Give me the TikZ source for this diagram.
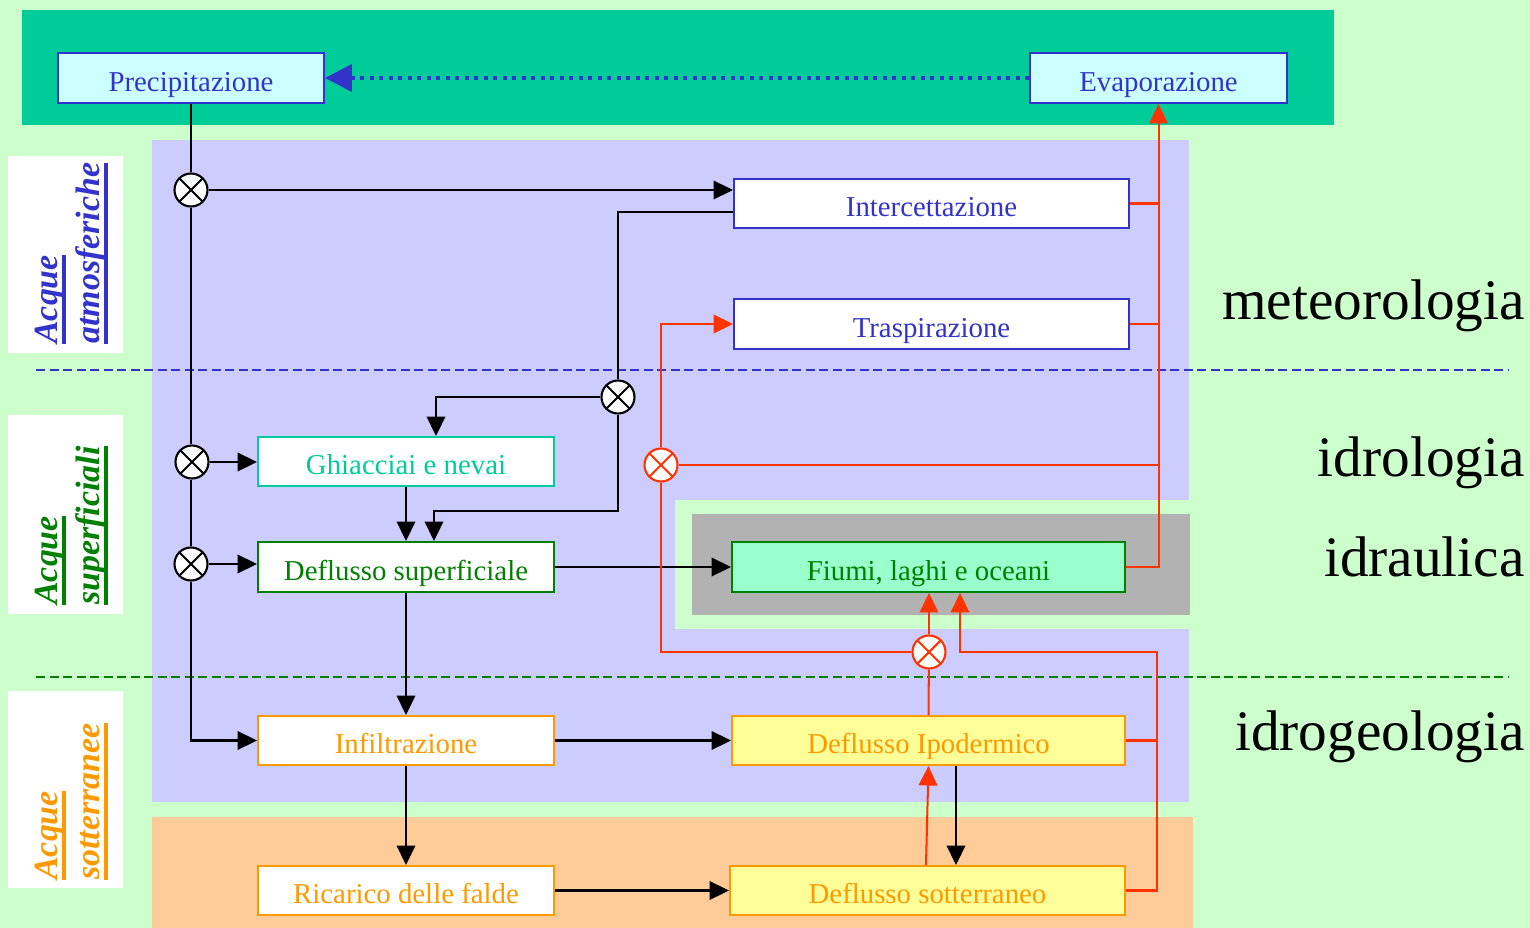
\documentclass[tikz,border=0pt]{standalone}
\usepackage{fontspec}
\setmainfont{Liberation Serif}
\usetikzlibrary{arrows.meta,calc}
\definecolor{bgg}{HTML}{CCFFCC}
\definecolor{tealband}{HTML}{00CC99}
\definecolor{lav}{HTML}{CCCCFF}
\definecolor{peach}{HTML}{FFCC99}
\definecolor{grayz}{HTML}{B2B2B2}
\definecolor{cyanl}{HTML}{CCFFFF}
\definecolor{mint}{HTML}{99FFCC}
\definecolor{yel}{HTML}{FFFF99}
\definecolor{blue3}{HTML}{3333CC}
\definecolor{green3}{HTML}{008000}
\definecolor{orange3}{HTML}{FF9900}
\definecolor{red3}{HTML}{FF3300}
\definecolor{teal3}{HTML}{00CC99}
\newsavebox\ulbox
\newcommand\ulbar[1]{\sbox\ulbox{#1}\rlap{\rule[-0.26em]{\wd\ulbox}{0.1em}}\usebox\ulbox}
\begin{document}
\begin{tikzpicture}[x=0.2mm,y=-0.2mm,
  box/.style={draw, line width=1.1pt, inner sep=0pt, text height=18.6pt, text depth=3.3pt, font=\fontsize{16.4}{19}\selectfont},
  bx/.style 2 args={minimum width=#1*0.2mm, minimum height=#2*0.2mm},
  junc/.style={circle, draw=#1, fill=white, line width=1.2pt, minimum size=6.6mm, inner sep=0pt,
    path picture={\draw[#1,line width=1.2pt] (path picture bounding box.north west) -- (path picture bounding box.south east)
      (path picture bounding box.north east) -- (path picture bounding box.south west);}},
  junc/.default=black,
  cb/.style={line width=1.15pt, black},
  cr/.style={line width=1.15pt, red3},
  ar/.style={-{Triangle[length=3.9mm,width=3.7mm]}},
  lab/.style={rotate=90, anchor=base west, inner sep=0pt, font=\fontsize{19.3}{23}\selectfont\bfseries\itshape},
  big/.style={anchor=base east, inner sep=0pt, font=\fontsize{32.6}{38}\selectfont},
  sep/.style={line width=1.1pt, dash pattern=on 1.8mm off 0.9mm}
]
\useasboundingbox (0,0) rectangle (1530,928);
% backgrounds
\fill[bgg] (0,0) rectangle (1530,928);
\fill[tealband] (22,10) rectangle (1334,125);
\fill[lav] (152,140) rectangle (1189,802);
\fill[bgg] (675,500) rectangle (1190,629);
\fill[grayz] (692,514) rectangle (1190,615);
\fill[peach] (152,817) rectangle (1193,928);
\fill[white] (8,156) rectangle (123,353);
\fill[white] (8,415) rectangle (123,614);
\fill[white] (8,691) rectangle (123,888);
% separators
\draw[sep, blue3] (36,370) -- (1508,370);
\draw[sep, green3] (36,677) -- (1508,677);
% left labels
\node[lab, text=blue3] (la1) at (57,344) {\ulbar{Acque}};
\node[lab, text=blue3] (la2) at (99,344) {\ulbar{atmosferiche}};
\node[lab, text=green3] (lb1) at (57,605) {\ulbar{Acque}};
\node[lab, text=green3] (lb2) at (99,605) {\ulbar{superficiali}};
\node[lab, text=orange3] (lc1) at (57,880) {\ulbar{Acque}};
\node[lab, text=orange3] (lc2) at (99,880) {\ulbar{sotterranee}};
% right labels
\node[big] (r1) at (1525,319) {meteorologia};
\node[big] (r2) at (1525,476) {idrologia};
\node[big] (r3) at (1525,576) {idraulica};
\node[big] (r4) at (1525,750) {idrogeologia};
% boxes
\node[box, bx={266}{50}, draw=blue3, fill=cyanl, text=blue3] (Prec) at (191,78) {Precipitazione};
\node[box, bx={257}{50}, draw=blue3, fill=cyanl, text=blue3] (Evap) at (1158.5,78) {Evaporazione};
\node[box, bx={395}{49}, draw=blue3, fill=white, text=blue3] (Int) at (931.5,203.5) {Intercettazione};
\node[box, bx={395}{50}, draw=blue3, fill=white, text=blue3] (Tra) at (931.5,324) {Traspirazione};
\node[box, bx={296}{49}, draw=teal3, fill=white, text=teal3] (Ghi) at (406,461.5) {Ghiacciai e nevai};
\node[box, bx={296}{50}, draw=green3, fill=white, text=green3] (Def) at (406,567) {Deflusso superficiale};
\node[box, bx={393}{50}, draw=green3, fill=mint, text=green3] (Fiu) at (928.5,567) {Fiumi, laghi e oceani};
\node[box, bx={296}{49}, draw=orange3, fill=white, text=orange3] (Inf) at (406,740.5) {Infiltrazione};
\node[box, bx={393}{49}, draw=orange3, fill=yel, text=orange3] (Ipo) at (928.5,740.5) {Deflusso Ipodermico};
\node[box, bx={296}{49}, draw=orange3, fill=white, text=orange3] (Ric) at (406,890.5) {Ricarico delle falde};
\node[box, bx={395}{49}, draw=orange3, fill=yel, text=orange3] (Sot) at (927.5,890.5) {Deflusso sotterraneo};
% junctions
\node[junc] (J1) at (191,190) {};
\node[junc] (J2) at (192,462) {};
\node[junc] (J3) at (191,564) {};
\node[junc] (J4) at (618,397) {};
\node[junc=red3] (J5) at (661,465) {};
\node[junc=red3] (J6) at (929,652) {};
\coordinate (k1) at (618,511);
\coordinate (k2) at (1157,652);
% evaporation to precipitation
\draw[blue3, line width=2.3pt, dash pattern=on 0.8mm off 1.1mm, -{Triangle[length=5.4mm,width=5.4mm]}] (Evap.west) -- (Prec.east);
% black connectors
\draw[cb] (Prec.south) -- (J1);
\draw[cb,ar] (J1) -- (J1 -| Int.west);
\draw[cb] (J1) -- (J1 |- J2.north);
\draw[cb] (J1 |- J2.south) -- (J3);
\draw[cb,ar] (J2) -- (J2 -| Ghi.west);
\draw[cb,ar] (J3) -- (J3 -| Def.west);
\draw[cb,ar] (J3) |- (Inf.west);
\draw[cb] ([yshift=-1.7mm]Int.west) -| (J4);
\draw[cb,ar] (J4) -| ([xshift=6mm]Ghi.north);
\draw[cb,ar] (J4) -- (k1) -| ([xshift=5.6mm]Def.north);
\draw[cb,ar] (Ghi.south) -- (Def.north);
\draw[cb,ar] (Def.east) -- (Fiu.west);
\draw[cb,ar] (Def.south) -- (Inf.north);
\draw[cb,ar] (Inf.east) -- (Ipo.west);
\draw[cb,ar] (Inf.south) -- (Ric.north);
\draw[cb,ar] (Ric.east) -- (Sot.west);
\draw[cb,ar] ([xshift=5.5mm]Ipo.south) -- ([xshift=5.5mm]Ipo.south |- Sot.north);
% red connectors
\draw[cr,ar] ([xshift=-0.3mm]Sot.north) -- (Ipo.south);
\draw[cr] (Ipo.north) -- (J6);
\draw[cr,ar] (J6) -- (J6 |- Fiu.south);
\draw[cr] (J6) -| (J5);
\draw[cr,ar] (J5) |- (Tra.west);
\draw[cr] (J5) -- (J5 -| Evap.south);
\draw[cr,ar] (Fiu.east) -| (Evap.south);
\draw[cr] (Int.east) -- (Int.east -| Evap.south);
\draw[cr] (Tra.east) -- (Tra.east -| Evap.south);
\draw[cr,ar] (Sot.east) -| (k2) -| ([xshift=6.3mm]Fiu.south);
\draw[cr] (Ipo.east) -- (Ipo.east -| k2);
\end{tikzpicture}
\end{document}
